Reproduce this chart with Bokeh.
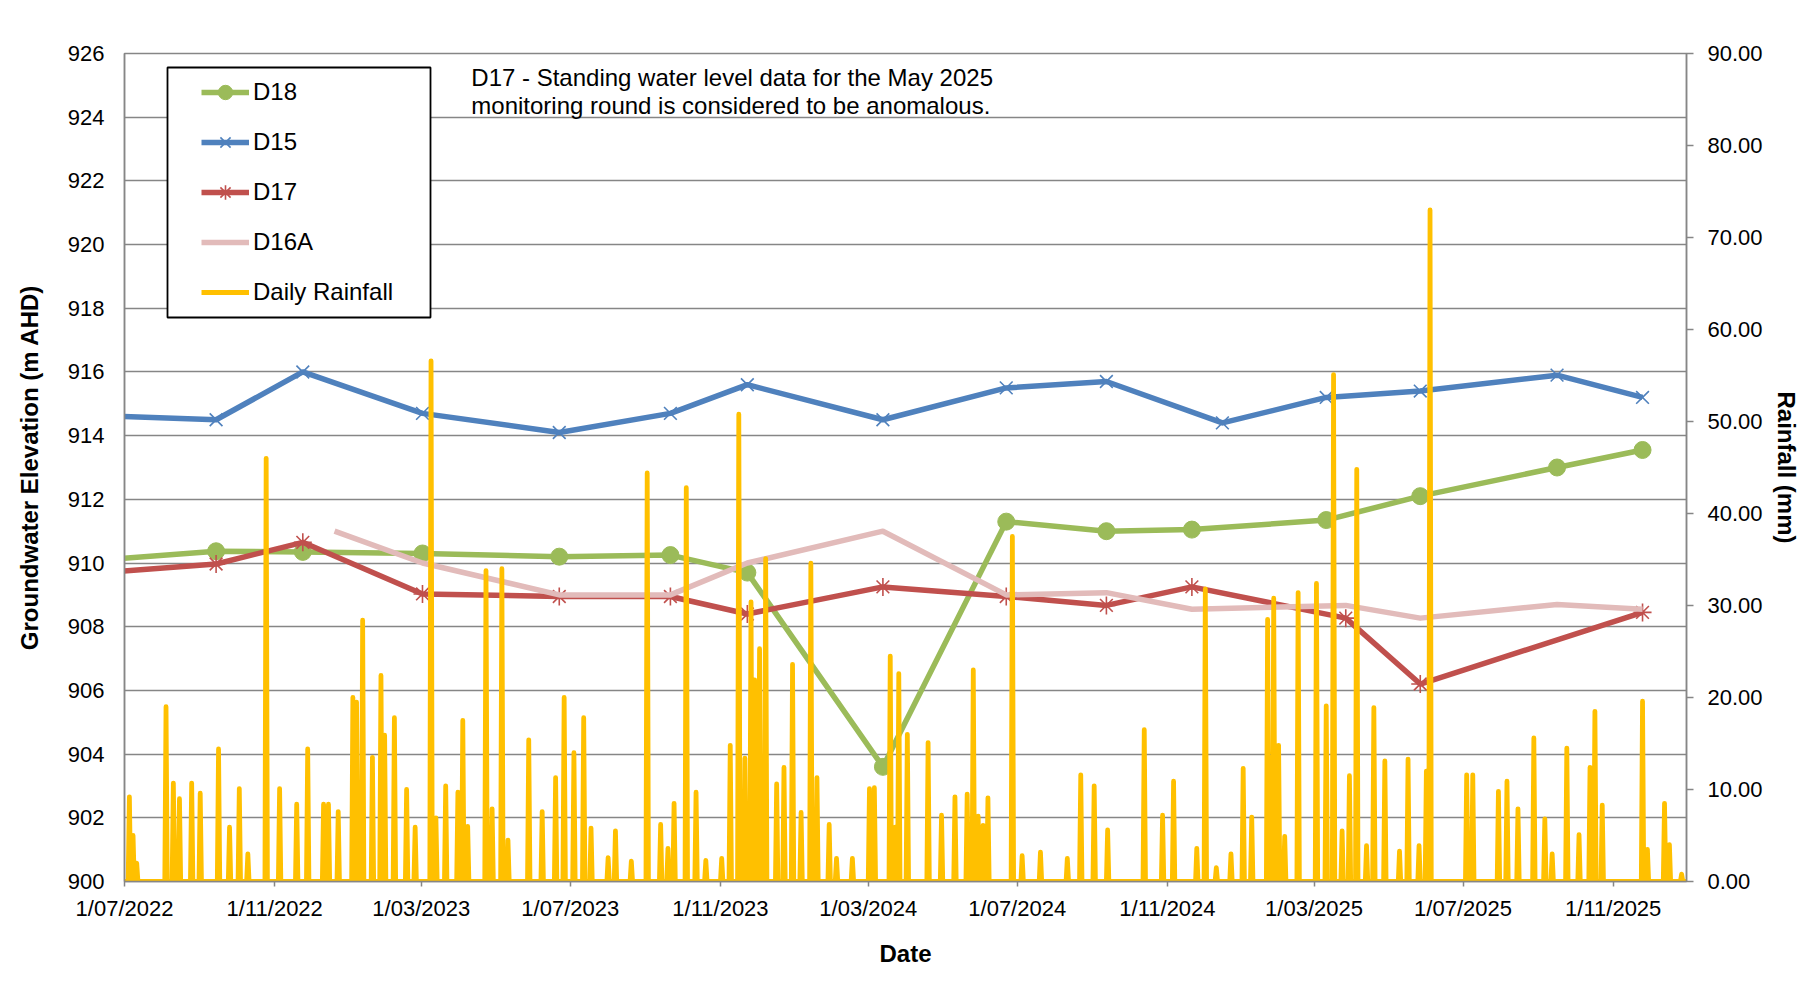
import pandas as pd
from bokeh.plotting import figure
from bokeh.models import (Range1d, LinearAxis, FixedTicker, PrintfTickFormatter,
                          Legend, LegendItem, Label, ColumnDataSource, BoxAnnotation)
from bokeh.embed import file_html
from bokeh.resources import INLINE

FONT = "Liberation Sans"

# ---------------- data ----------------
d18_dates = ["2022-06-01", "2022-09-14", "2022-11-24", "2023-03-02", "2023-06-22", "2023-09-21",
             "2023-11-23", "2024-03-13", "2024-06-22", "2024-09-12", "2024-11-21", "2025-03-11",
             "2025-05-27", "2025-09-16", "2025-11-25"]
d18_values = [910.06, 910.37, 910.35, 910.30, 910.20, 910.25, 909.70, 903.60, 911.30, 911.00,
              911.05, 911.35, 912.10, 913.00, 913.55]

d15_dates = ["2022-06-01", "2022-09-14", "2022-11-24", "2023-03-02", "2023-06-22", "2023-09-21",
             "2023-11-23", "2024-03-13", "2024-06-22", "2024-09-12", "2024-12-16", "2025-03-11",
             "2025-05-27", "2025-09-16", "2025-11-25"]
d15_values = [914.64, 914.50, 916.00, 914.70, 914.10, 914.70, 915.60, 914.50, 915.50, 915.70,
              914.40, 915.20, 915.40, 915.90, 915.20]

d17_dates = ["2022-06-01", "2022-09-14", "2022-11-24", "2023-03-02", "2023-06-22", "2023-09-21",
             "2023-11-23", "2024-03-13", "2024-06-22", "2024-09-12", "2024-11-21", "2025-03-27",
             "2025-05-27", "2025-11-25"]
d17_values = [909.66, 909.97, 910.65, 909.03, 908.95, 908.95, 908.40, 909.25, 908.95, 908.67,
              909.25, 908.27, 906.20, 908.45]

d16a_dates = ["2022-12-20", "2023-03-02", "2023-06-22", "2023-09-21", "2023-11-23", "2024-03-13",
              "2024-06-22", "2024-09-12", "2024-11-21", "2025-03-27", "2025-05-27", "2025-09-16",
              "2025-11-25"]
d16a_values = [911.00, 910.00, 909.00, 909.00, 910.00, 911.00, 909.00, 909.07, 908.55, 908.67,
               908.27, 908.70, 908.55]

rain_dates = [
    "2022-07-05", "2022-07-08", "2022-07-11", "2022-08-04", "2022-08-10", "2022-08-15", "2022-08-25",
    "2022-09-01", "2022-09-16", "2022-09-25", "2022-10-03", "2022-10-10", "2022-10-25", "2022-11-05",
    "2022-11-19", "2022-11-28", "2022-12-11", "2022-12-15", "2022-12-23", "2023-01-04", "2023-01-07",
    "2023-01-12", "2023-01-20", "2023-01-27", "2023-01-30", "2023-02-07", "2023-02-17", "2023-02-24",
    "2023-03-09", "2023-03-13", "2023-03-21", "2023-03-31", "2023-04-04", "2023-04-08", "2023-04-23",
    "2023-04-28", "2023-05-06", "2023-05-11", "2023-05-28", "2023-06-08", "2023-06-19", "2023-06-26",
    "2023-07-04", "2023-07-12", "2023-07-18", "2023-08-01", "2023-08-07", "2023-08-20", "2023-09-02",
    "2023-09-13", "2023-09-19", "2023-09-24", "2023-10-04", "2023-10-12", "2023-10-20", "2023-11-02",
    "2023-11-09", "2023-11-16", "2023-11-21", "2023-11-26", "2023-11-29", "2023-12-03", "2023-12-08",
    "2023-12-17", "2023-12-23", "2023-12-30", "2024-01-06", "2024-01-14", "2024-01-19", "2024-01-29",
    "2024-02-04", "2024-02-17", "2024-03-02", "2024-03-06", "2024-03-19", "2024-03-23", "2024-03-26",
    "2024-04-02", "2024-04-19", "2024-04-30", "2024-05-11", "2024-05-21", "2024-05-26", "2024-05-30",
    "2024-06-03", "2024-06-07", "2024-06-27", "2024-07-05", "2024-07-20", "2024-08-11", "2024-08-22",
    "2024-09-02", "2024-09-13", "2024-10-13", "2024-10-28", "2024-11-06", "2024-11-25", "2024-12-02",
    "2024-12-11", "2024-12-23", "2025-01-02", "2025-01-09", "2025-01-22", "2025-01-27", "2025-01-31",
    "2025-02-05", "2025-02-16", "2025-03-03", "2025-03-11", "2025-03-17", "2025-03-24", "2025-03-30",
    "2025-04-05", "2025-04-13", "2025-04-19", "2025-04-28", "2025-05-10", "2025-05-17", "2025-05-26",
    "2025-06-01", "2025-06-04", "2025-07-04", "2025-07-09", "2025-07-30", "2025-08-06", "2025-08-15",
    "2025-08-28", "2025-09-06", "2025-09-12", "2025-09-24", "2025-10-04", "2025-10-13", "2025-10-17",
    "2025-10-23", "2025-11-25", "2025-11-29", "2025-12-13", "2025-12-17", "2025-12-27"]
rain_mm = [
    9.2, 5.0, 2.0, 19.0, 10.7, 9.0, 10.7,
    9.6, 14.4, 5.9, 10.1, 3.0, 46.0, 10.1,
    8.4, 14.4, 8.4, 8.4, 7.6, 20.0, 19.5,
    28.4, 13.5, 22.4, 15.9, 17.8, 10.0, 5.9,
    56.6, 6.9, 10.4, 9.7, 17.5, 6.0, 33.8,
    7.9, 34.0, 4.5, 15.4, 7.6, 11.3, 20.0,
    14.0, 17.8, 5.8, 2.6, 5.5, 2.2, 44.4,
    6.2, 3.6, 8.5, 42.8, 9.7, 2.3, 2.5,
    14.8, 50.8, 13.4, 30.4, 21.9, 25.3, 35.1,
    10.6, 12.4, 23.6, 7.5, 34.6, 11.3, 6.2,
    2.5, 2.5, 10.1, 10.2, 24.5, 5.9, 22.6,
    16.0, 15.1, 7.2, 9.2, 9.5, 23.0, 7.1,
    6.1, 9.1, 37.5, 2.8, 3.2, 2.5, 11.6,
    10.4, 5.6, 16.5, 7.2, 10.9, 3.6, 31.8,
    1.5, 3.0, 12.3, 7.0, 28.5, 30.8, 14.8,
    4.9, 31.4, 32.4, 19.1, 55.1, 5.5, 11.5,
    44.8, 3.9, 18.9, 13.1, 3.3, 13.3, 3.9,
    12.0, 73.0, 11.6, 11.6, 9.8, 10.9, 7.9,
    15.6, 6.8, 3.0, 14.5, 5.1, 12.4, 18.5,
    8.3, 19.6, 3.5, 8.5, 4.0, 0.8]

x_tick_labels = ["1/07/2022", "1/11/2022", "1/03/2023", "1/07/2023", "1/11/2023", "1/03/2024",
                 "1/07/2024", "1/11/2024", "1/03/2025", "1/07/2025", "1/11/2025"]
left_ticks = list(range(900, 927, 2))
right_ticks = list(range(0, 91, 10))

x_start, x_end = "2022-07-01", "2025-12-31"

# ---------------- helpers ----------------
def ms(dates):
    return [pd.Timestamp(d).value / 1e6 for d in dates]

days = pd.date_range(x_start, x_end, freq="D")
rain = pd.Series(0.0, index=days)
rain.loc[pd.to_datetime(rain_dates)] = rain_mm

GREEN, BLUE, RED, PINK, GOLD = "#9BBB59", "#4F81BD", "#C0504D", "#E2BBBA", "#FFC000"
GRID = "#868686"

p = figure(width=1802, height=988, x_axis_type="datetime",
           x_range=Range1d(ms([x_start])[0], ms([x_end])[0]),
           y_range=Range1d(900, 926),
           output_backend="svg", toolbar_location=None,
           min_border_left=124, min_border_right=114, min_border_top=53, min_border_bottom=107)
p.extra_y_ranges = {"rain": Range1d(0, 90)}
p.outline_line_color = GRID
p.outline_line_width = 1.5
p.xgrid.grid_line_color = None
p.ygrid.grid_line_color = GRID
p.ygrid.grid_line_width = 1.5
p.background_fill_color = "white"
p.border_fill_color = "white"

# left axis
ly = p.yaxis[0]
ly.ticker = FixedTicker(ticks=left_ticks)
ly.axis_label = "Groundwater Elevation (m AHD)"
ly.major_label_standoff = 14

# x axis
tick_ms = ms([pd.to_datetime(t, format="%d/%m/%Y") for t in x_tick_labels])
xa = p.xaxis[0]
xa.ticker = FixedTicker(ticks=tick_ms)
xa.major_label_overrides = {t: lab for t, lab in zip(tick_ms, x_tick_labels)}
xa.axis_label = "Date"
xa.major_tick_in = 0
xa.major_tick_out = 5
xa.major_label_standoff = 9

# right axis
ry = LinearAxis(y_range_name="rain", ticker=FixedTicker(ticks=right_ticks),
                formatter=PrintfTickFormatter(format="%.2f"), axis_label="Rainfall (mm)")
ry.major_tick_in = 0
ry.major_tick_out = 7
ry.major_label_standoff = 14
p.add_layout(ry, "right")

for ax in (ly, xa, ry):
    ax.axis_line_color = GRID
    ax.axis_line_width = 1.5
    ax.minor_tick_line_color = None
    ax.major_tick_line_color = GRID
    ax.major_tick_line_width = 1.5
    ax.major_label_text_font = FONT
    ax.major_label_text_font_size = "22px"
    ax.major_label_text_color = "black"
    ax.axis_label_text_font = FONT
    ax.axis_label_text_font_size = "24px"
    ax.axis_label_text_font_style = "bold"
    ax.axis_label_text_color = "black"
ly.major_tick_line_color = None
ly.axis_label_standoff = 22
xa.axis_label_standoff = 16
ry.axis_label_standoff = 7

# ---------------- glyphs ----------------
s18 = ColumnDataSource(dict(x=pd.to_datetime(d18_dates), y=d18_values))
s15 = ColumnDataSource(dict(x=pd.to_datetime(d15_dates), y=d15_values))
s17 = ColumnDataSource(dict(x=pd.to_datetime(d17_dates), y=d17_values))
s16 = ColumnDataSource(dict(x=pd.to_datetime(d16a_dates), y=d16a_values))
sr = ColumnDataSource(dict(x=rain.index, y=rain.values))

LW = 5.5
l18 = p.line("x", "y", source=s18, color=GREEN, line_width=LW, line_join="round")
m18 = p.scatter("x", "y", source=s18, marker="circle", size=17, color=GREEN)
l15 = p.line("x", "y", source=s15, color=BLUE, line_width=LW, line_join="round")
m15 = p.scatter("x", "y", source=s15, marker="x", size=18, line_color=BLUE, line_width=1.6)
l17 = p.line("x", "y", source=s17, color=RED, line_width=LW, line_join="round")
m17 = p.scatter("x", "y", source=s17, marker="asterisk", size=18, line_color=RED, line_width=1.6)
l16 = p.line("x", "y", source=s16, color=PINK, line_width=LW, line_join="round")
lr = p.line("x", "y", source=sr, color=GOLD, line_width=4.8, line_join="round",
            y_range_name="rain")

# legend frame (screen units, relative to the plot frame)
box = BoxAnnotation(left=43, right=306, top=814, bottom=564,
                    left_units="screen", right_units="screen", top_units="screen",
                    bottom_units="screen", fill_color="white", fill_alpha=1.0,
                    line_color="black", line_alpha=1.0, line_width=1.8)
p.add_layout(box)

legend = Legend(items=[
    LegendItem(label="D18", renderers=[l18, m18]),
    LegendItem(label="D15", renderers=[l15, m15]),
    LegendItem(label="D17", renderers=[l17, m17]),
    LegendItem(label="D16A", renderers=[l16]),
    LegendItem(label="Daily Rainfall", renderers=[lr]),
], location=(77, 571))
legend.label_text_font = FONT
legend.label_text_font_size = "24px"
legend.label_text_color = "black"
legend.border_line_color = None
legend.background_fill_alpha = 0.0
legend.padding = 0
legend.spacing = 14
legend.glyph_width = 48
legend.glyph_height = 36
legend.label_height = 36
legend.label_standoff = 4
legend.margin = 0
p.add_layout(legend, "center")

note_lines = ["D17 - Standing water level data for the May 2025",
              "monitoring round is considered to be anomalous."]
for txt, yv in zip(note_lines, [925.25, 924.37]):
    p.add_layout(Label(x=ms(["2023-04-11"])[0], y=yv, text=txt, text_font=FONT,
                       text_font_size="24px", text_baseline="middle", text_color="black"))

open("out.html", "w").write(file_html(p, INLINE))
